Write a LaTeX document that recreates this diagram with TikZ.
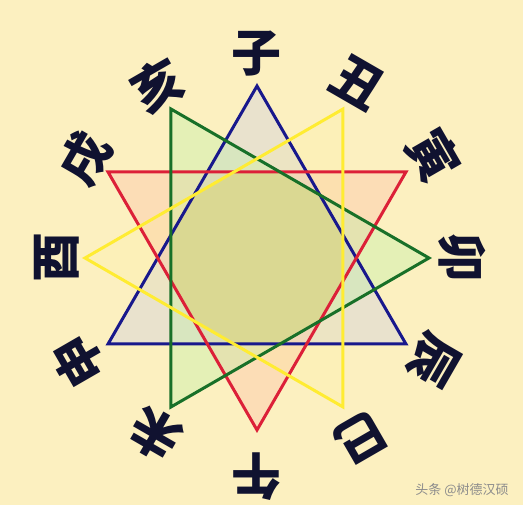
\documentclass[tikz,border=0pt]{standalone}
\usepackage{fontspec}
\newfontfamily\cjk{Noto Sans CJK SC}
\definecolor{bg}{RGB}{252,240,192}
\definecolor{ink}{RGB}{16,18,48}
\definecolor{lblue}{RGB}{24,24,140}
\definecolor{lred}{RGB}{220,32,56}
\definecolor{lgreen}{RGB}{24,112,40}
\definecolor{lyellow}{RGB}{255,236,50}
\definecolor{fblue}{RGB}{205,205,225}
\definecolor{fred}{RGB}{252,187,165}
\definecolor{fgreen}{RGB}{185,240,165}
\definecolor{fyellow}{RGB}{255,245,140}
\definecolor{olive}{RGB}{218,216,146}
\begin{document}
\begin{tikzpicture}[x=1pt,y=1pt,
  lab/.style={font=\cjk\bfseries\fontsize{50}{50}\selectfont, text=ink, inner sep=0pt},
  edge/.style={line width=3pt, line join=miter},
  wm/.style={font=\cjk\fontsize{13}{13}\selectfont, text=black!45, inner sep=0pt}]
\fill[bg] (-257,-247) rectangle (266,258);
\useasboundingbox (-257,-247) rectangle (266,258);
% vertices
\coordinate (zi) at (90:172);
\coordinate (chou) at (60:172);
\coordinate (yin) at (30:172);
\coordinate (mao) at (0:172);
\coordinate (chen) at (-30:172);
\coordinate (si) at (-60:172);
\coordinate (wu) at (-90:172);
\coordinate (wei) at (-120:172);
\coordinate (shen) at (-150:172);
\coordinate (you) at (180:172);
\coordinate (xu) at (150:172);
\coordinate (hai) at (120:172);
% fills
\fill[fblue, fill opacity=0.4] (zi) -- (chen) -- (shen) -- cycle;
\fill[fred, fill opacity=0.35] (wu) -- (xu) -- (yin) -- cycle;
\fill[fgreen, fill opacity=0.35] (hai) -- (mao) -- (wei) -- cycle;
\fill[fyellow, fill opacity=0.15] (chou) -- (you) -- (si) -- cycle;
\fill[olive] (15:89.03) \foreach \a in {45,75,...,345} { -- (\a:89.03) } -- cycle;
% strokes
\draw[edge, lblue] (zi) -- (chen) -- (shen) -- cycle;
\draw[edge, lred] (wu) -- (xu) -- (yin) -- cycle;
\draw[edge, lgreen] (hai) -- (mao) -- (wei) -- cycle;
\draw[edge, lyellow] (chou) -- (you) -- (si) -- cycle;
% labels
\node[lab, rotate=0] (lzi) at (90:204) {子};
\node[lab, rotate=-30] (lchou) at (60:202) {丑};
\node[lab, rotate=-60] (lyin) at (30:204) {寅};
\node[lab, rotate=-90] (lmao) at (0:205) {卯};
\node[lab, rotate=-120] (lchen) at (-30:204) {辰};
\node[lab, rotate=-150] (lsi) at (-60:208) {巳};
\node[lab, rotate=180] (lwu) at (-90:219) {午};
\node[lab, rotate=150] (lwei) at (-120:204) {未};
\node[lab, rotate=120] (lshen) at (-150:206) {申};
\node[lab, rotate=90] (lyou) at (180:200) {酉};
\node[lab, rotate=60] (lxu) at (150:199) {戌};
\node[lab, rotate=30] (lhai) at (120:200) {亥};
% watermark
\node[wm] (mark) at (205,-232) {头条 @树德汉硕};
\end{tikzpicture}
\end{document}
